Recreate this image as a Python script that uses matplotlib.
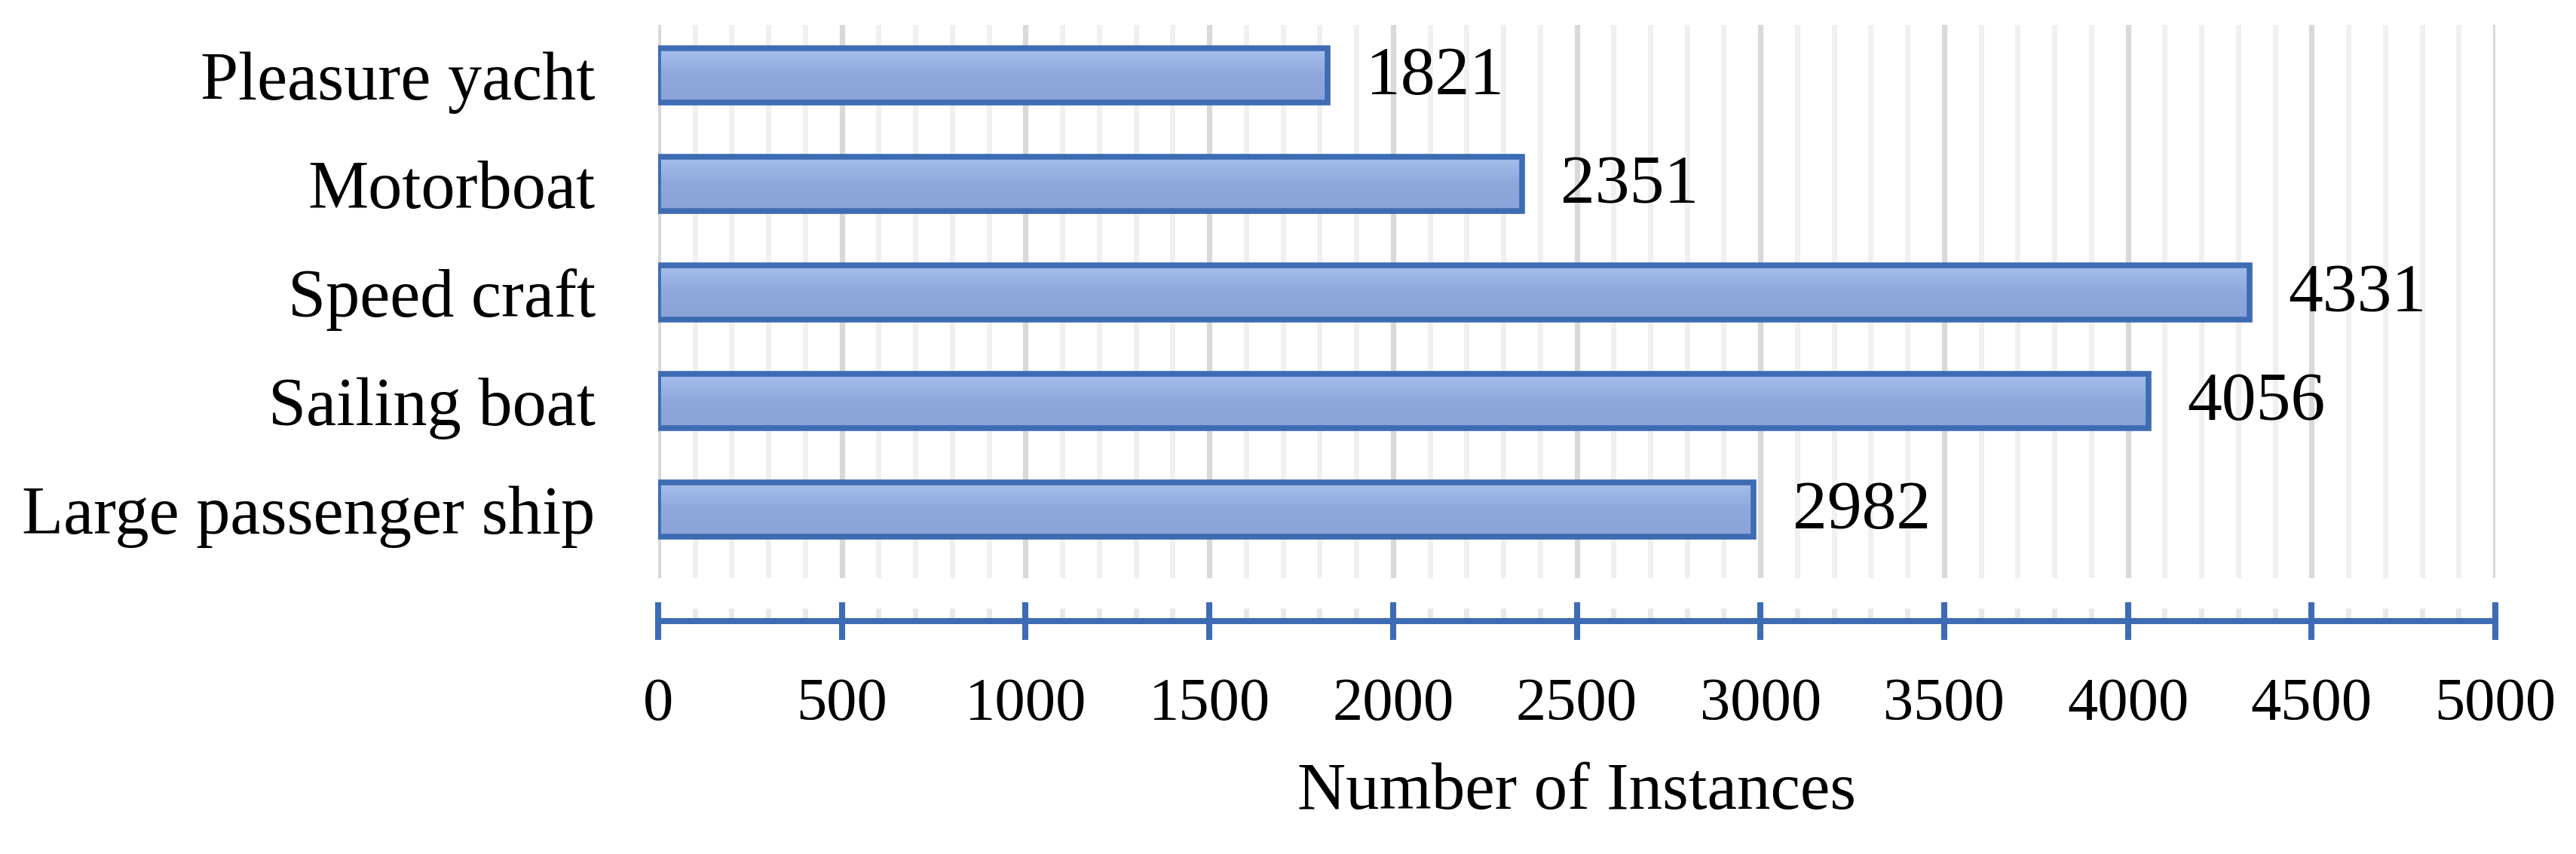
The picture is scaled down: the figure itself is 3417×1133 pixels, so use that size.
import numpy as np
import matplotlib
matplotlib.use("Agg")
import matplotlib.pyplot as plt
from matplotlib.colors import LinearSegmentedColormap

# Data (top to bottom as shown)
categories = ["Pleasure yacht", "Motorboat", "Speed craft", "Sailing boat",
              "Large passenger ship"]
instances = [1821, 2351, 4331, 4056, 2982]
major_ticks = list(range(0, 5001, 500))
minor_ticks = list(range(0, 5001, 100))

plt.rcParams["font.family"] = ["Liberation Serif", "DejaVu Serif"]

edge_blue = "#3E6CB4"
fill_cmap = LinearSegmentedColormap.from_list("bar", ["#a6bfec", "#8ea8dc", "#8aa3d8"])

fig = plt.figure(figsize=(34.17, 11.33), dpi=100)
ax = fig.add_axes([873 / 3417, 1 - 767 / 1133, (3310 - 873) / 3417, (767 - 33) / 1133])

bar_h = 0.5
y = np.arange(len(categories))
bars = ax.barh(y, instances, height=bar_h, facecolor="none",
               edgecolor=edge_blue, linewidth=5.5, zorder=3)

# gradient fill inside each bar
grad = np.linspace(0, 1, 64).reshape(-1, 1)
for bar in bars:
    x0, y0 = bar.get_x(), bar.get_y()
    w, h = bar.get_width(), bar.get_height()
    ax.imshow(grad, cmap=fill_cmap, aspect="auto", zorder=2,
              extent=(x0, x0 + w, y0 + h, y0), interpolation="bicubic")

for yi, v in zip(y, instances):
    ax.annotate(str(v), xy=(v, yi), xytext=(37, -2), textcoords="offset points",
                ha="left", va="center", fontsize=66, color="black")

ax.set_xlim(0, 5000)
ax.set_ylim(4.63, -0.465)

ax.set_xticks(major_ticks)
ax.set_xticks(minor_ticks, minor=True)
ax.set_yticks(y)
ax.set_yticklabels(categories, fontsize=65)
ax.tick_params(axis="y", length=0, pad=60)
ax.tick_params(axis="x", which="major", direction="inout", length=36, width=5.8,
               color=edge_blue, labelsize=58, pad=36)
ax.tick_params(axis="x", which="minor", direction="in", length=12, width=5,
               color="#e8e8e8")

ax.grid(axis="x", which="major", color="#d9d9d9", linewidth=5.2, zorder=0)
ax.grid(axis="x", which="minor", color="#f0f0f0", linewidth=5, zorder=0)
ax.set_axisbelow(True)

for side in ["top", "right", "left"]:
    ax.spines[side].set_visible(False)
ax.spines["bottom"].set_position(("outward", 41))
ax.spines["bottom"].set_color(edge_blue)
ax.spines["bottom"].set_linewidth(5.8)

ax.set_xlabel("Number of Instances", fontsize=64, labelpad=28)

fig.savefig("out.png", dpi=100)
